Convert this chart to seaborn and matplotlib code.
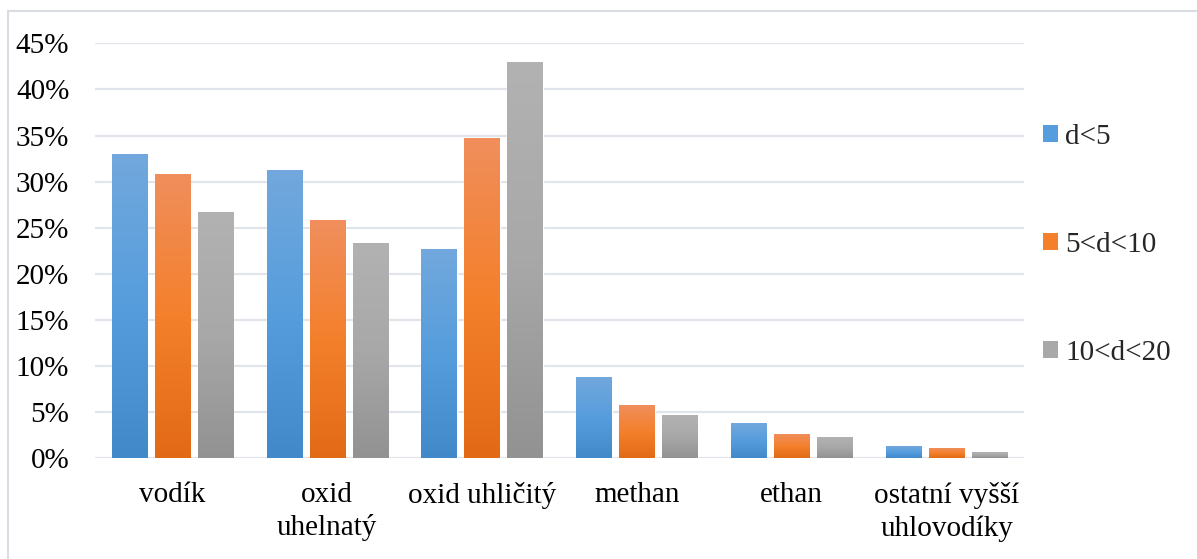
import numpy as np
import pandas as pd
import matplotlib
matplotlib.use("Agg")
import matplotlib.pyplot as plt
from matplotlib.colors import to_rgb
from matplotlib.patches import Patch
from matplotlib.lines import Line2D
import seaborn as sns

# Composition of the gas by particle size range (percent)
categories = ["vodík", "oxid\nuhelnatý", "oxid uhličitý", "methan", "ethan",
              "ostatní vyšší\nuhlovodíky"]
series = ["d<5", "5<d<10", "10<d<20"]
d_lt_5 = [32.9, 31.2, 22.6, 8.7, 3.7, 1.2]
d_5_10 = [30.7, 25.7, 34.6, 5.7, 2.6, 1.0]
d_10_20 = [26.6, 23.3, 42.9, 4.6, 2.2, 0.6]
y_ticks = [0, 5, 10, 15, 20, 25, 30, 35, 40, 45]

# top / middle / bottom shades of each series' gradient fill
gradients = {
    "d<5": ["#72a8dc", "#569ddd", "#4289c9"],
    "5<d<10": ["#f08e5c", "#f4802c", "#e26a16"],
    "10<d<20": ["#b2b2b2", "#a8a8a8", "#929292"],
}
mid_colors = [gradients[s][1] for s in series]

sns.set_theme(style="white")
plt.rcParams["font.family"] = ["Liberation Serif", "DejaVu Serif"]
FS = 21

df = pd.DataFrame({
    "složka": categories * 3,
    "rozsah": np.repeat(series, len(categories)),
    "podíl": d_lt_5 + d_5_10 + d_10_20,
})

W, H = 1197, 559
fig = plt.figure(figsize=(W / 100, H / 100), dpi=100)
ax = fig.add_axes([95 / W, 1 - 458.3 / H, 929 / W, 415 / H])

sns.barplot(data=df, x="složka", y="podíl", hue="rozsah", order=categories,
            hue_order=series, palette=mid_colors, width=0.834, gap=0.18,
            errorbar=None, legend=False, ax=ax, zorder=2)


def gradient_image(stops, n=256):
    top, mid, bot = (np.array(to_rgb(c)) for c in stops)
    t = np.linspace(0, 1, n)[:, None]  # 0 = bottom, 1 = top
    lower = bot + (mid - bot) * np.clip(t / 0.5, 0, 1)
    upper = mid + (top - mid) * np.clip((t - 0.5) / 0.5, 0, 1)
    rgb = np.where(t < 0.5, lower, upper)
    return rgb[:, None, :]


# fill every bar with a vertical gradient spanning its own height
for container, name in zip(ax.containers, series):
    img = gradient_image(gradients[name])
    for bar in container:
        x0, y0 = bar.get_x(), bar.get_y()
        w, h = bar.get_width(), bar.get_height()
        ax.imshow(img, extent=[x0, x0 + w, y0, y0 + h], origin="lower",
                  aspect="auto", zorder=3, interpolation="bilinear")

ax.set_xlim(-0.5, len(categories) - 0.5)
ax.set_ylim(0, 45)
ax.set_yticks(y_ticks)
ax.set_yticklabels([f"{v}%" for v in y_ticks])
ax.yaxis.grid(True, color="#e1e4ea", linewidth=1.6, zorder=0)
ax.set_axisbelow(True)
for s in ax.spines.values():
    s.set_visible(False)
ax.tick_params(axis="both", length=0, labelsize=FS, colors="#000000")
ax.tick_params(axis="y", pad=18.5)
ax.tick_params(axis="x", pad=17)
for lbl in ax.get_xticklabels():
    lbl.set_linespacing(1.3)
ax.set_xlabel("")
ax.set_ylabel("")

handles = [Patch(facecolor=c, edgecolor="none") for c in mid_colors]
fig.legend(handles, series, loc="upper left",
           bbox_to_anchor=(1031 / W, 1 - 112 / H), frameon=False,
           fontsize=FS, handlelength=0.52, handleheight=0.52,
           handletextpad=0.25, labelspacing=2.82, borderaxespad=0)

# chart area border
border = "#d9dde3"
fig.add_artist(Line2D([8 / W, 8 / W], [0, 1 - 11 / H], transform=fig.transFigure,
                      color=border, linewidth=1.5))
fig.add_artist(Line2D([8 / W, 1], [1 - 11 / H, 1 - 11 / H],
                      transform=fig.transFigure, color=border, linewidth=1.5))

fig.savefig("out.png", dpi=100)
